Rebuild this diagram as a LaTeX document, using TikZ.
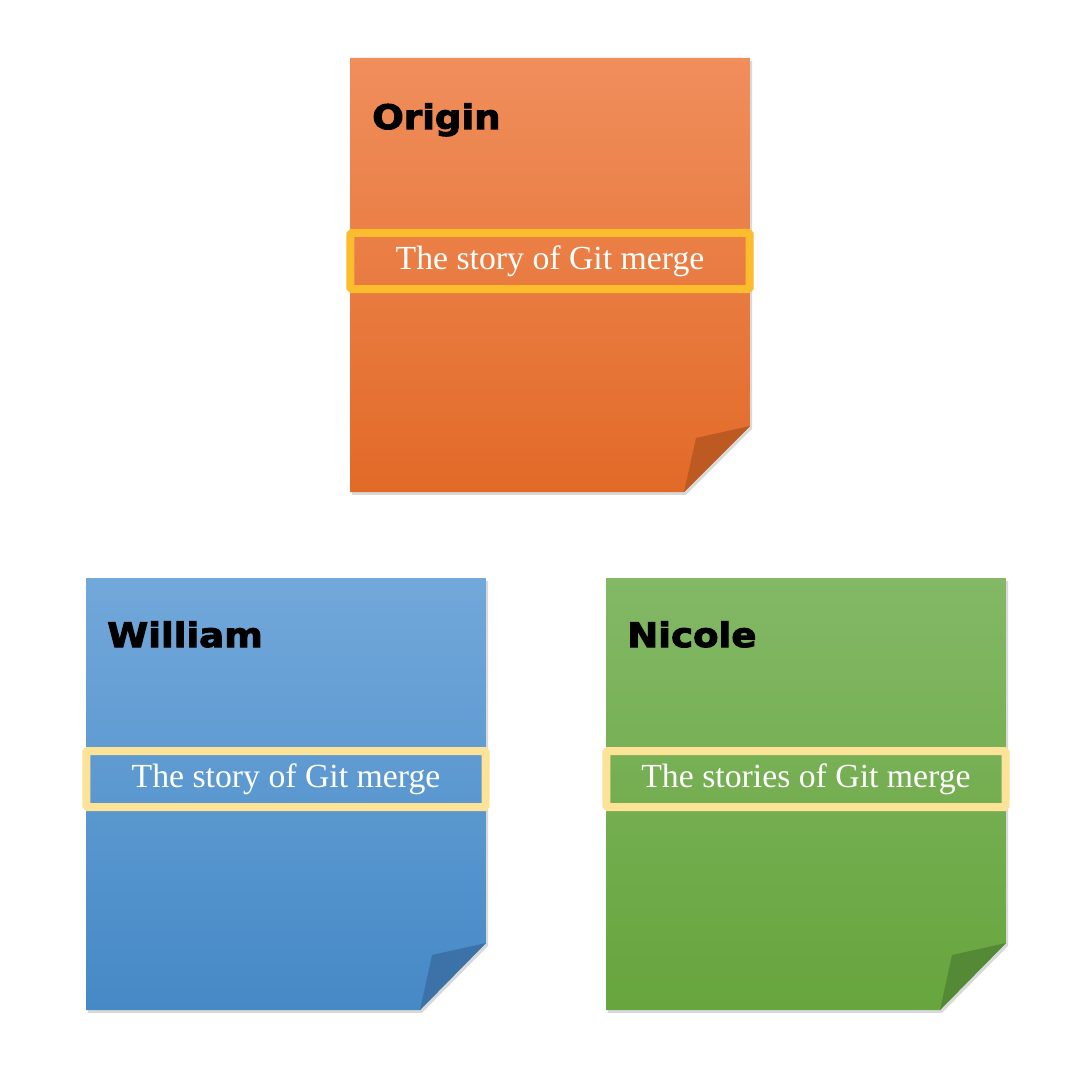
\documentclass[tikz,border=0pt]{standalone}
\usepackage{fontspec}
\setmainfont{Liberation Serif}
\newfontfamily\titlefont[FakeBold=3,FakeStretch=1.1]{DejaVu Sans Bold}
\usetikzlibrary{shadows}
\definecolor{orangetop}{RGB}{240,142,92}
\definecolor{orangebot}{RGB}{226,106,40}
\definecolor{orangefold}{RGB}{188,90,34}
\definecolor{orangeline}{RGB}{251,188,46}
\definecolor{bluetop}{RGB}{114,168,218}
\definecolor{bluebot}{RGB}{69,137,198}
\definecolor{bluefold}{RGB}{61,114,168}
\definecolor{greentop}{RGB}{131,184,102}
\definecolor{greenbot}{RGB}{103,165,61}
\definecolor{greenfold}{RGB}{84,138,54}
\definecolor{paleline}{RGB}{253,227,152}

\begin{document}
\begin{tikzpicture}[x=0.025cm,y=-0.025cm,
	note/.style={drop shadow={opacity=0.3,shadow xshift=1.5pt,shadow yshift=-2pt}},
	storybox/.style={draw,line width=0.2cm,rounded corners=1pt,minimum width=9.975cm,minimum height=1.4cm,inner sep=0pt,text=white,font=\fontsize{24}{28}\selectfont},
	title/.style={anchor=base west,inner sep=0pt,font=\titlefont\fontsize{24}{28}\selectfont}]
		\useasboundingbox (0,0) rectangle (1088,1090);
		\shade[note,top color=orangetop,bottom color=orangebot](350,58)--(750,58)--(750,426)--(684,492)--(350,492)--cycle;
		\fill[orangefold](750,426)--(696,438)--(684,492)--cycle;
		\node[title] (origin) at (372,129) {Origin};
		\node[storybox,draw=orangeline] (origin story) at (550,261) {The story of Git merge};
		\shade[note,top color=bluetop,bottom color=bluebot](86,578)--(486,578)--(486,943)--(420,1010)--(86,1010)--cycle;
		\fill[bluefold](486,943)--(432,955)--(420,1010)--cycle;
		\node[title] (william) at (107,647) {William};
		\node[storybox,draw=paleline] (william story) at (286,779) {The story of Git merge};
		\shade[note,top color=greentop,bottom color=greenbot](606,578)--(1006,578)--(1006,943)--(940,1010)--(606,1010)--cycle;
		\fill[greenfold](1006,943)--(952,955)--(940,1010)--cycle;
		\node[title] (nicole) at (627,647) {Nicole};
		\node[storybox,draw=paleline] (nicole story) at (806,779) {The stories of Git merge};
	\end{tikzpicture}
\end{document}
